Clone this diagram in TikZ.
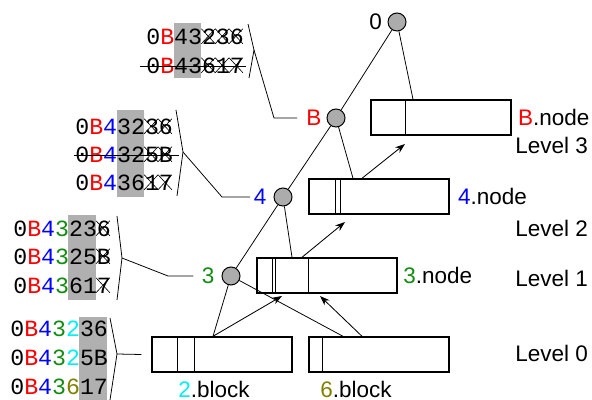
\documentclass[tikz,border=0pt]{standalone}
\usepackage{fontspec}
\setmainfont{Liberation Sans}
\newfontfamily\codefont{Liberation Mono}
\usetikzlibrary{positioning,arrows.meta}

\definecolor{lgreen}{RGB}{20,140,20}
\definecolor{lolive}{RGB}{128,128,0}
\definecolor{lcyan}{RGB}{0,240,240}

\def\cw{13.84}
\def\ch{15}

\begin{document}
\begin{tikzpicture}[x=0.025cm, y=-0.025cm, line width=0.55pt,
	dot/.style={circle, draw, line width=0.7pt, fill=gray!65, inner sep=0pt, minimum size=0.45cm},
	box/.style={draw, line width=1pt, minimum width=3.5cm, minimum height=0.875cm, inner sep=0pt},
	lbl/.style={font=\fontsize{16}{19}\selectfont, inner sep=0pt},
	code/.style={font=\codefont\fontsize{16.5}{20}\selectfont, inner sep=0pt, anchor=west},
	xmark/.style={line width=0.45pt},
	arr/.style={-{Stealth[length=7pt,width=5pt]}, line width=0.6pt}]
	\useasboundingbox (0,0) rectangle (592,400);

	% shaded columns
	\fill[gray!62] (173.7,23) rectangle (201.4,78);
	\fill[gray!62] (116.5,110) rectangle (144.2,197);
	\fill[gray!62] (68.4,215) rectangle (96,300);
	\fill[gray!62] (79.2,317) rectangle (106.9,400);

	% key lists
	\node[code] (g1a) at (146,37) {0\textcolor{red}{B}43236};
	\node[code] (g1b) at (146,66) {0\textcolor{red}{B}43617};
	\node[code] (g2a) at (75,127) {0\textcolor{red}{B}\textcolor{blue}{4}3236};
	\node[code] (g2b) at (75,155) {0\textcolor{red}{B}\textcolor{blue}{4}325B};
	\node[code] (g2c) at (75,183) {0\textcolor{red}{B}\textcolor{blue}{4}3617};
	\node[code] (g3a) at (13,229) {0\textcolor{red}{B}\textcolor{blue}{4}\textcolor{lgreen}{3}236};
	\node[code] (g3b) at (13,257) {0\textcolor{red}{B}\textcolor{blue}{4}\textcolor{lgreen}{3}25B};
	\node[code] (g3c) at (13,286) {0\textcolor{red}{B}\textcolor{blue}{4}\textcolor{lgreen}{3}617};
	\node[code] (g4a) at (10,329) {0\textcolor{red}{B}\textcolor{blue}{4}\textcolor{lgreen}{3}\textcolor{lcyan}{2}36};
	\node[code] (g4b) at (10,358) {0\textcolor{red}{B}\textcolor{blue}{4}\textcolor{lgreen}{3}\textcolor{lcyan}{2}5B};
	\node[code] (g4c) at (10,387) {0\textcolor{red}{B}\textcolor{blue}{4}\textcolor{lgreen}{3}\textcolor{lolive}{6}17};

	% crossed out
	\foreach \r/\k in {g1a/4, g1a/5, g1a/6, g1b/4, g1b/5, g1b/6, g2a/5, g2a/6, g2b/5, g2b/6, g2c/5, g2c/6, g3a/6, g3b/6, g3c/6}
	\draw[xmark] (\r.north west) ++(\k*\cw,0) -- ++(\cw,\ch) ++(-\cw,0) -- ++(\cw,-\ch);
	\draw ([xshift=-4pt]g1b.west) -- ([xshift=1pt]g1b.east);
	\draw ([xshift=-1pt]g2b.west) -- ([xshift=4pt]g2b.east);

	% tree
	\node[dot] (c0) at (397,22) {};
	\node[dot] (cB) at (336,118) {};
	\node[dot] (c4) at (283,197) {};
	\node[dot] (c3) at (231,276) {};
	\node[lbl, left=0.13cm of c0] (l0) {0};
	\node[lbl, left=0.12cm of cB, text=red] (lB) {B};
	\node[lbl, left=0.17cm of c4, text=blue] (l4) {4};
	\node[lbl, left=0.17cm of c3, text=lgreen] (l3) {3};

	% boxes
	\node[box] (nB) at (441,117.5) {};
	\node[box] (n4) at (379,196.5) {};
	\node[box] (n3) at (327,275.5) {};
	\node[box] (b2) at (222,354.5) {};
	\node[box] (b6) at (379,354.5) {};
	\draw[line width=1pt] (nB.north west) ++(35,0) -- ++(0,35);
	\draw[line width=1pt] (n4.north west) ++(27,0) -- ++(0,35) ++(5,0) -- ++(0,-35);
	\draw[line width=1pt] (n3.north west) ++(16,0) -- ++(0,35) ++(3,0) -- ++(0,-35) ++(33,0) -- ++(0,35);
	\draw[line width=1pt] (b2.north west) ++(26,0) -- ++(0,35) ++(17,0) -- ++(0,-35);
	\draw[line width=1pt] (b6.north west) ++(14,0) -- ++(0,35);

	\node[lbl, right=0.15cm of nB] (tB) {\textcolor{red}{B}.node};
	\node[lbl, right=0.2cm of n4] (t4) {\textcolor{blue}{4}.node};
	\node[lbl, right=0.13cm of n3] (t3) {\textcolor{lgreen}{3}.node};
	\node[lbl, anchor=west] (t2) at (178,389) {\textcolor{lcyan}{2}.block};
	\node[lbl, anchor=west] (t6) at (320,389) {\textcolor{lolive}{6}.block};

	\node[lbl, anchor=west] (lv3) at (515,145) {Level 3};
	\node[lbl, anchor=west] (lv2) at (515,228) {Level 2};
	\node[lbl, anchor=west] (lv1) at (515,278) {Level 1};
	\node[lbl, anchor=west] (lv0) at (515,353) {Level 0};

	% links
	\draw (c0) -- (cB);
	\draw (c0) -- (413,0 |- nB.north);
	\draw (cB) -- (c4);
	\draw (cB) -- (353,0 |- n4.north);
	\draw (c4) -- (c3);
	\draw (c4) -- (292,0 |- n3.north);
	\draw (c3) -- (213,0 |- b2.north);
	\draw (c3) -- (343,0 |- b6.north);
	\draw[arr] (213,0 |- b2.north) -- (282,296);
	\draw[arr] (362,0 |- b6.north) -- (320,296);
	\draw[arr] (302,0 |- n3.north) -- (345,222);
	\draw[arr] (362,0 |- n4.north) -- (405,144);

	% brackets
	\draw (248,24) -- (254,50) coordinate (k1) -- (249,78);
	\draw (k1) -- (274,118) -- ([xshift=-0.22cm]lB.west);
	\draw (176,110) -- (183,152) coordinate (k2) -- (177,196);
	\draw (k2) -- (222,197) -- ([xshift=-0.08cm]l4.west);
	\draw (117,216) -- (122,258) coordinate (k3) -- (117,300);
	\draw (k3) -- (168,276) -- ([xshift=-0.2cm]l3.west);
	\draw (110,318) -- (117,354) coordinate (k4) -- (110,400);
	\draw (k4) -- ([xshift=-0.25cm]b2.west);
\end{tikzpicture}
\end{document}
